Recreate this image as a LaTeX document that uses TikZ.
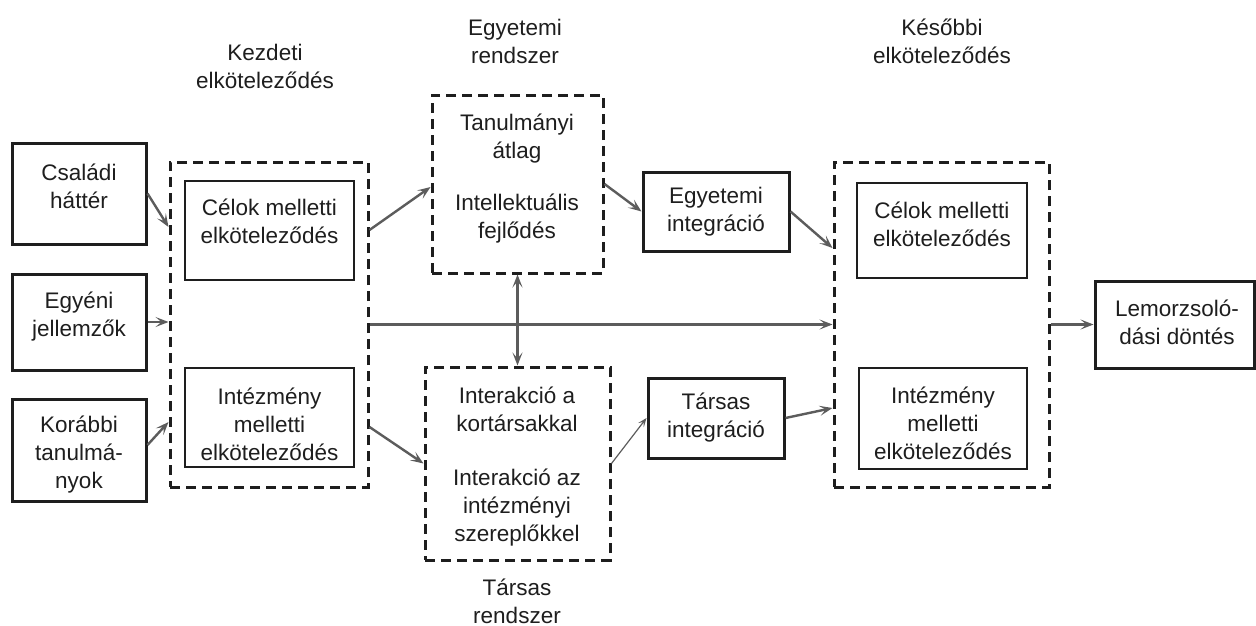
\documentclass[tikz,border=0pt]{standalone}
\usepackage{fontspec}
\setmainfont{Liberation Sans}
\usetikzlibrary{arrows.meta}
\definecolor{ink}{HTML}{1E1E1E}
\definecolor{arr}{HTML}{5C5C5C}
\begin{document}
\begin{tikzpicture}[x=1pt,y=-1pt,
 >={Stealth[length=13pt,width=10pt,inset=6pt]},
 box/.style={draw=ink, line width=3pt, inner sep=0pt},
 ibox/.style={draw=ink, line width=1.6pt, inner sep=0pt},
 dbox/.style={draw=ink, line width=3pt, dash pattern=on 10pt off 6pt, inner sep=0pt},
 txt/.style={text=ink, align=center, inner sep=0pt, font=\fontsize{22.5}{28}\selectfont},
 con/.style={draw=arr, line width=2.4pt, ->},
 thincon/.style={draw=arr, line width=1.2pt, -{Stealth[length=9pt,width=7pt,inset=4pt]}},
]
\fill[white] (0,0) rectangle (1256,626);
\useasboundingbox (0,0) rectangle (1256,626);

% left input boxes
\node[box, minimum width=134pt, minimum height=101pt] (fam) at (79,193.5) {};
\node[txt] (famt) at (79,186) {Családi\\háttér};
\node[box, minimum width=134pt, minimum height=96pt] (egy) at (79,322) {};
\node[txt] (egyt) at (79,317) {Egyéni\\jellemzők};
\node[box, minimum width=134pt, minimum height=102pt] (kor) at (79,450) {};
\node[txt] (kort) at (79,455) {Korábbi\\tanulmá-\\nyok};

% initial commitment
\node[txt] (kezt) at (265,66) {Kezdeti\\elköteleződés};
\node[dbox, minimum width=198pt, minimum height=325pt] (kez) at (269,324.5) {};
\node[ibox, minimum width=169pt, minimum height=99pt] (kc) at (269.5,230.5) {};
\node[txt] (kct) at (269.5,221) {Célok melletti\\elköteleződés};
\node[ibox, minimum width=169pt, minimum height=99pt] (ki) at (269.5,417.5) {};
\node[txt] (kit) at (269.5,424.5) {Intézmény\\melletti\\elköteleződés};

% academic system
\node[txt] (egysyst) at (515,41) {Egyetemi\\rendszer};
\node[dbox, minimum width=171pt, minimum height=178pt] (egysys) at (517.5,184) {};
\node[txt] (egysys1) at (517,139) {Tanulmányi\\átlag};
\node[txt] (egysys2) at (517,218.5) {Intellektuális\\fejlődés};

% social system
\node[dbox, minimum width=185pt, minimum height=193pt] (socsys) at (517.5,463.5) {};
\node[txt] (socsys1) at (517,409) {Interakció a\\kortársakkal};
\node[txt] (socsys2) at (517,508) {Interakció az\\intézményi\\szereplőkkel};
\node[txt] (socsyst) at (517,601.5) {Társas\\rendszer};

% integration boxes
\node[box, minimum width=146pt, minimum height=79pt] (egyint) at (716,211.5) {};
\node[txt] (egyintt) at (716,212) {Egyetemi\\integráció};
\node[box, minimum width=136pt, minimum height=80pt] (tarsint) at (716,418) {};
\node[txt] (tarsintt) at (716,418) {Társas\\integráció};

% later commitment
\node[txt] (latert) at (942,41.5) {Későbbi\\elköteleződés};
\node[dbox, minimum width=215pt, minimum height=325pt] (later) at (941.5,324.5) {};
\node[ibox, minimum width=170pt, minimum height=95pt] (lc) at (942,230.5) {};
\node[txt] (lct) at (942,224) {Célok melletti\\elköteleződés};
\node[ibox, minimum width=168pt, minimum height=101pt] (li) at (943,418.5) {};
\node[txt] (lit) at (943,423) {Intézmény\\melletti\\elköteleződés};

% dropout decision
\node[box, minimum width=159pt, minimum height=87pt] (lem) at (1174.5,324.5) {};
\node[txt] (lemt) at (1177,322.5) {Lemorzsoló-\\dási döntés};

% connectors
\draw[con] (fam.east) -- ([yshift=97.5pt]kez.west);
\draw[con] (egy.east) -- (kez.west |- egy.east);
\draw[con] ([yshift=5pt]kor.east) -- ([yshift=-97.5pt]kez.west);
\draw[con] ([yshift=94.5pt]kez.east) -- ([yshift=-3pt]egysys.west);
\draw[con] ([yshift=-102.5pt]kez.east) -- (socsys.west);
\draw[con] (egysys.east) -- (egyint.west);
\draw[con] (egyint.east) -- ([yshift=76.5pt]later.west);
\draw[thincon] (socsys.east) -- (tarsint.west);
\draw[con] (tarsint.east) -- ([yshift=-83.5pt]later.west);
\draw[con] (kez.east) -- (later.west);
\draw[con, <->] (egysys.south) -- (socsys.north);
\draw[con] (later.east) -- (lem.west);
\end{tikzpicture}
\end{document}
